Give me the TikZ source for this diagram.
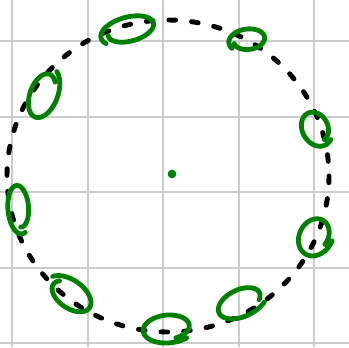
\documentclass[tikz,border=0pt]{standalone}
\usepackage{xcolor}
\usepackage{tikz}
\definecolor{loopgreen}{RGB}{0,128,0}
\definecolor{gridgray}{RGB}{204,204,204}
\def\gridStep{75.5}
\def\shrink{0.3}
\newcommand{\curl}[7]{%
% #1,#2 = centre, #3 = tilt, #4,#5 = radii, #6 = start angle, #7 = sweep
\begin{scope}[shift={(#1,#2)}, rotate=#3]
\draw[curlline]
plot[domain=#6:#6+#7, samples=70, smooth, variable=\t]
({#4*(1.1-\shrink*(\t-#6)/#7)*cos(\t)},{#5*(1.1-\shrink*(\t-#6)/#7)*sin(\t)});
\end{scope}
}

\begin{document}
\begin{tikzpicture}[
    x=0.75pt, y=-0.75pt,
    gridline/.style={gridgray, line width=1.5pt},
    dashline/.style={black, line width=3.7pt, line cap=round, dash pattern=on 5pt off 12pt},
    curlline/.style={loopgreen, line width=3.6pt, line cap=round, line join=round}
]
\useasboundingbox (0,0) rectangle (349,347);
\fill[white] (0,0) rectangle (349,347);

% grid
\foreach \i in {0,...,4} {
  \draw[gridline] ({12+\i*\gridStep},0) -- ({12+\i*\gridStep},347);
  \draw[gridline] (0,{41+\i*\gridStep}) -- (349,{41+\i*\gridStep});
}

% dashed ring
\coordinate (ring) at (168,176);
\draw[dashline] (ring) ellipse [x radius=161, y radius=156];

% loops round the ring
\curl{129}{30}{15}{27}{13}{150}{390}
\curl{248}{40}{8}{18}{11}{150}{380}
\curl{316}{128}{-62}{18}{14}{330}{380}
\curl{315}{236}{62}{20}{16}{80}{380}
\curl{241}{302}{25}{25}{14}{40}{350}
\curl{168}{328}{6}{25}{14}{50}{380}
\curl{70}{295}{-35}{24}{14}{200}{370}
\curl{19}{208}{95}{24}{11}{160}{380}
\curl{43}{94}{70}{25}{14}{20}{380}

% centre mark
\node[circle, fill=loopgreen, inner sep=0pt, minimum size=6.5pt] (mid) at (172,174) {};
\end{tikzpicture}
\end{document}
